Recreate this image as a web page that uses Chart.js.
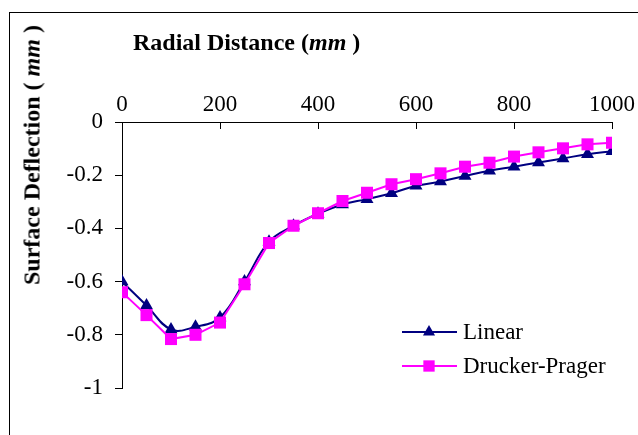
<!DOCTYPE html>
<html>
<head>
<meta charset="utf-8">
<script src="https://cdn.jsdelivr.net/npm/chart.js@4"></script>
<style>
body{margin:0;background:#fff;}
#wrap{position:relative;width:638px;height:435px;overflow:hidden;font-family:"Liberation Serif","Times New Roman",serif;}
#frame{position:absolute;left:9px;top:12px;width:700px;height:500px;border-left:1px solid #000;border-top:1px solid #000;}
canvas{position:absolute;left:0;top:0;}
.ttl{position:absolute;font-weight:bold;color:#000;white-space:nowrap;font-size:24px;}
#xt{left:133px;top:29px;}
#yt{left:32px;top:155px;transform:translate(-50%,-50%) rotate(-90deg);}
</style>
</head>
<body>
<div id="wrap">
<div id="frame"></div>
<canvas id="c" width="638" height="435"></canvas>
<div class="ttl" id="xt">Radial Distance (<i>mm</i> )</div>
<div class="ttl" id="yt">Surface Deflection ( <i>mm</i> )</div>
</div>
<script>
const radial=[0,50,100,150,200,250,300,350,400,450,500,550,600,650,700,750,800,850,900,950,1000];
const linear=[-0.60,-0.69,-0.78,-0.77,-0.735,-0.60,-0.45,-0.39,-0.345,-0.31,-0.29,-0.268,-0.24,-0.224,-0.203,-0.183,-0.168,-0.152,-0.137,-0.121,-0.11];
const drucker=[-0.64,-0.726,-0.816,-0.80,-0.754,-0.61,-0.455,-0.39,-0.343,-0.297,-0.266,-0.234,-0.215,-0.193,-0.168,-0.153,-0.13,-0.114,-0.099,-0.084,-0.078];
const seriesNames=['Linear','Drucker-Prager'];
const NAVY='#000080',MAG='#ff00ff';
const F='"Liberation Serif","Times New Roman",serif';

const pts=(ys)=>radial.map((x,i)=>({x:x,y:ys[i]}));

// inward ticks on top axis + legend inside plot
const extras={
    id:'extras',
    afterDraw(ch){
        const c=ch.ctx,xs=ch.scales.x,a=ch.chartArea;
        c.save();
        c.strokeStyle='#000';c.lineWidth=1;
        xs.ticks.forEach(t=>{
            const px=Math.round(xs.getPixelForValue(t.value))+0.5;
            c.beginPath();c.moveTo(px,a.top);c.lineTo(px,a.top+7);c.stroke();
        });
        const items=[[seriesNames[0],NAVY,'triangle',7],[seriesNames[1],MAG,'rect',8]];
        items.forEach((it,i)=>{
            const y=a.bottom-56+i*34;
            const x0=a.right-210;
            c.strokeStyle=it[1];c.lineWidth=2;
            c.beginPath();c.moveTo(x0,y);c.lineTo(x0+55,y);c.stroke();
            c.fillStyle=it[1];
            Chart.helpers.drawPoint(c,{pointStyle:it[2],radius:it[3],borderWidth:0},x0+27,y);
            c.fillStyle='#000';c.font='23px '+F;c.textBaseline='middle';c.textAlign='left';
            c.fillText(it[0],x0+61,y+1);
        });
        c.restore();
    }
};

new Chart(document.getElementById('c'),{
    type:'line',
    data:{datasets:[
        {label:seriesNames[0],data:pts(linear),borderColor:NAVY,backgroundColor:NAVY,borderWidth:2,pointStyle:'triangle',pointRadius:7.5,pointBorderWidth:0,tension:0.4,order:1},
        {label:seriesNames[1],data:pts(drucker),borderColor:MAG,backgroundColor:MAG,borderWidth:2,pointStyle:'rect',pointRadius:8.5,pointBorderWidth:0,tension:0,order:0}
    ]},
    options:{
        responsive:false,animation:false,devicePixelRatio:1,
        layout:{padding:{left:0,top:0,right:26,bottom:47}},
        plugins:{legend:{display:false},tooltip:{enabled:false}},
        scales:{
            x:{type:'linear',position:'top',min:0,max:1000,
                afterFit:s=>{s.height=122;},
                ticks:{stepSize:200,color:'#000',font:{family:F,size:23},padding:3,maxRotation:0,callback:v=>String(v)},
                grid:{display:true,drawOnChartArea:false,drawTicks:false},
                border:{display:true,color:'#000',width:1}},
            y:{type:'linear',min:-1,max:0,
                afterFit:s=>{s.width=122;},
                ticks:{stepSize:0.2,color:'#000',font:{family:F,size:23},padding:12,callback:v=>String(Math.round(v*10)/10)},
                grid:{display:true,drawOnChartArea:false,drawTicks:true,tickLength:7,color:'#000'},
                border:{display:true,color:'#000',width:1}}
        }
    },
    plugins:[extras]
});
</script>
</body>
</html>
